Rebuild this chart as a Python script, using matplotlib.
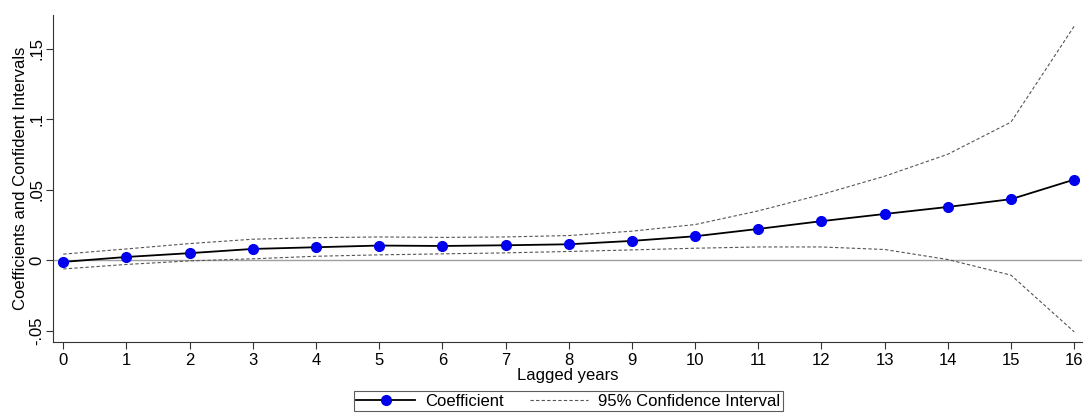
import numpy as np
import matplotlib.pyplot as plt
from matplotlib.ticker import FuncFormatter

plt.rcParams['font.family'] = ['Liberation Sans', 'DejaVu Sans']

# lagged years and estimates
lags = list(range(17))
coef = [-0.0012, 0.0023, 0.0050, 0.0080, 0.0092, 0.0104, 0.0101, 0.0106, 0.0113,
        0.0137, 0.0170, 0.0222, 0.0277, 0.0328, 0.0378, 0.0433, 0.0572]
ci_upper = [0.0043, 0.0080, 0.0118, 0.0149, 0.0160, 0.0165, 0.0162, 0.0165, 0.0175,
            0.0206, 0.0253, 0.0350, 0.0466, 0.0596, 0.0752, 0.0980, 0.1660]
ci_lower = [-0.0062, -0.0030, -0.0005, 0.0010, 0.0028, 0.0038, 0.0045, 0.0052, 0.0062,
            0.0073, 0.0085, 0.0094, 0.0094, 0.0076, 0.0005, -0.0106, -0.0508]
yticks = [-0.05, 0, 0.05, 0.1, 0.15]

fig = plt.figure(figsize=(10.85, 4.17), dpi=100)
ax = fig.add_axes([0.049, 0.18, 0.948, 0.784])

ax.axhline(0, color='#a0a0a0', linewidth=1.0, zorder=1)
ax.plot(lags, coef, color='black', linewidth=1.3, marker='o', markersize=7,
        markerfacecolor='#0000ee', markeredgecolor='#0000ee', label='Coefficient', zorder=3)
ax.plot(lags, ci_upper, color='#555555', linewidth=0.8, dashes=(3, 2),
        label='95% Confidence Interval', zorder=2)
ax.plot(lags, ci_lower, color='#555555', linewidth=0.8, dashes=(3, 2), zorder=2)

ax.set_xlim(-0.16, 16.12)
ax.set_ylim(-0.058, 0.174)
ax.set_xticks(lags)
ax.set_yticks(yticks)


def fmt(v, pos):
    s = ('%g' % v)
    return s.replace('0.', '.')


ax.yaxis.set_major_formatter(FuncFormatter(fmt))
for lab in ax.get_yticklabels():
    lab.set_rotation(90)
    lab.set_va('center')

ax.tick_params(labelsize=12, length=5, width=0.8, color='#333333', pad=3)
ax.tick_params(axis='y', pad=1.5)
ax.spines['top'].set_visible(False)
ax.spines['right'].set_visible(False)
ax.spines['left'].set_color('#333333')
ax.spines['bottom'].set_color('#333333')

ax.set_xlabel('Lagged years', fontsize=12, labelpad=0)
ax.set_ylabel('Coefficients and Confident Intervals', fontsize=12, labelpad=1)

leg = fig.legend(loc='upper center', bbox_to_anchor=(0.524, 0.062), ncol=2, fontsize=12,
                 frameon=True, fancybox=False, edgecolor='#333333', handlelength=3.5,
                 handletextpad=0.6, borderpad=0.15, columnspacing=1.6, borderaxespad=0)
leg.get_frame().set_linewidth(0.8)

fig.savefig('out.png', dpi=100)
